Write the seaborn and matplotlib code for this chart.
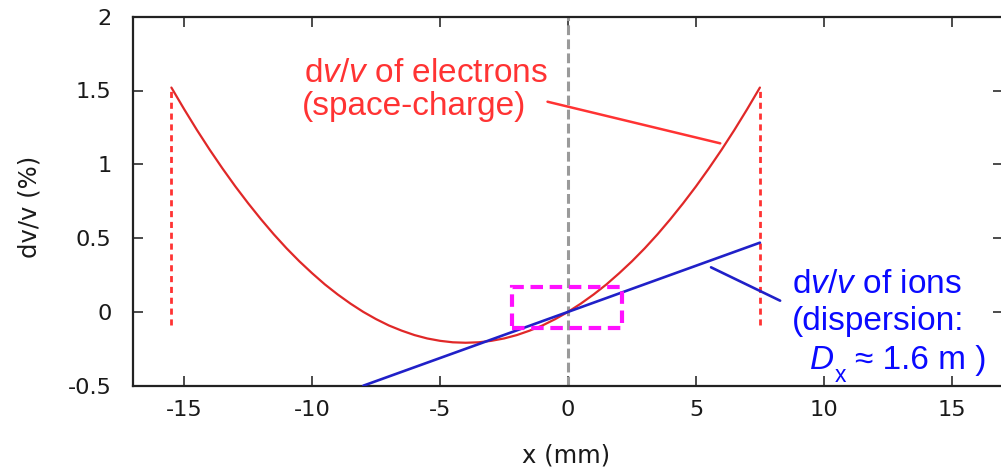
import matplotlib
matplotlib.use("Agg")
import matplotlib.pyplot as plt
from matplotlib.patches import Rectangle
import pandas as pd
import seaborn as sns

# Relative velocity spread of the electron beam (space-charge), in %
electron_x = [-15.5, -15, -14.5, -14, -13.5, -13, -12.5, -12, -11.5, -11,
              -10.5, -10, -9.5, -9, -8.5, -8, -7.5, -7, -6.5, -6, -5.5, -5,
              -4.5, -4, -3.5, -3, -2.5, -2, -1.5, -1, -0.5, 0, 0.5, 1, 1.5,
              2, 2.5, 3, 3.5, 4, 4.5, 5, 5.5, 6, 6.5, 7, 7.5]
electron_dvv = [1.520, 1.373, 1.232, 1.098, 0.971, 0.850, 0.736, 0.628,
                0.526, 0.431, 0.343, 0.262, 0.186, 0.118, 0.056, 0.000,
                -0.049, -0.092, -0.127, -0.157, -0.180, -0.196, -0.206,
                -0.209, -0.206, -0.196, -0.180, -0.157, -0.127, -0.092,
                -0.049, 0.000, 0.056, 0.118, 0.186, 0.262, 0.343, 0.431,
                0.526, 0.628, 0.736, 0.850, 0.971, 1.098, 1.232, 1.373, 1.520]

# Relative velocity spread of the ions (dispersion), in %
ion_x = [-8.0, 0.0, 7.5]
ion_dvv = [-0.5, 0.0, 0.469]

# Electron beam edges
edge_x = [-15.5, 7.5]
edge_dvv = [-0.09, 1.52]

# Overlap region around the beam centre
box_x = [-2.2, 2.1]
box_dvv = [-0.11, 0.17]

x_ticks = [-15, -10, -5, 0, 5, 10, 15]
x_tick_labels = ["-15", "-10", "-5", "0", "5", "10", "15"]
y_ticks = [-0.5, 0, 0.5, 1, 1.5, 2]
y_tick_labels = ["-0.5", "0", "0.5", "1", "1.5", "2"]

sns.set_style("ticks")
plt.rcParams["font.family"] = ["DejaVu Sans"]
plt.rcParams["axes.unicode_minus"] = False
plt.rcParams["mathtext.fontset"] = "custom"
plt.rcParams["mathtext.rm"] = "Liberation Sans"
plt.rcParams["mathtext.it"] = "Liberation Sans:italic"

RED_CURVE = "#e02828"
RED = "#ff3333"
BLUE_LINE = "#2020c8"
BLUE = "#0a0aff"

fig = plt.figure(figsize=(10.01, 4.68), dpi=100)
ax = fig.add_axes([133 / 1001, (468 - 385.7) / 468, 870 / 1001, 369 / 468])

electrons = pd.DataFrame({"x": electron_x, "dvv": electron_dvv})
ions = pd.DataFrame({"x": ion_x, "dvv": ion_dvv})

ax.axvline(0, color="#9a9a9a", lw=2.2, ls=(0, (3.2, 1.4)), zorder=1)
ax.vlines(edge_x, edge_dvv[0], edge_dvv[1], colors=RED, lw=2.0,
          linestyles=(0, (2.2, 1.7)), zorder=2)
sns.lineplot(data=electrons, x="x", y="dvv", color=RED_CURVE, lw=1.6,
             estimator=None, ax=ax, zorder=3)
sns.lineplot(data=ions, x="x", y="dvv", color=BLUE_LINE, lw=1.9,
             estimator=None, ax=ax, zorder=4)
ax.add_patch(Rectangle((box_x[0], box_dvv[0]), box_x[1] - box_x[0],
                       box_dvv[1] - box_dvv[0], fill=False, ec="#ff10ff",
                       lw=3.0, ls=(0, (3.0, 1.6)), zorder=5))

# Label connectors
ax.plot([-0.80, 5.95], [1.424, 1.142], color=RED, lw=1.8, zorder=3)
ax.plot([5.59, 8.29], [0.302, 0.076], color=BLUE_LINE, lw=1.9, zorder=4)

# Labels
tfont = dict(family="Liberation Sans", fontsize=24, va="baseline", ha="left")
ax.text(-10.32, 1.560, r"d$\mathit{v/v}$ of electrons", color=RED, **tfont)
ax.text(-10.40, 1.333, "(space-charge)", color=RED, **tfont)
ax.text(8.75, 0.126, r"d$\mathit{v/v}$ of ions", color=BLUE, **tfont)
ax.text(8.75, -0.122, "(dispersion:", color=BLUE, **tfont)
ax.text(9.46, -0.389, "D", color=BLUE, style="italic", **tfont)
ax.text(10.44, -0.474, "x", color=BLUE, family="Liberation Sans",
        fontsize=16.5, va="baseline", ha="left")
ax.text(11.22, -0.389, "\u2248 1.6 m )", color=BLUE, **tfont)

ax.set_xlim(-17, 17)
ax.set_ylim(-0.5, 2)
ax.set_xticks(x_ticks, x_tick_labels)
ax.set_yticks(y_ticks, y_tick_labels)
ax.tick_params(direction="in", length=7, width=1.1, top=True, right=True,
               labelsize=16.2, colors="#1a1a1a")
ax.tick_params(axis="x", pad=10.5)
ax.tick_params(axis="y", pad=15.5)
for s in ax.spines.values():
    s.set_linewidth(1.6)
    s.set_color("#222222")

ax.set_xlabel("x (mm)", fontsize=17.5, color="#1a1a1a")
ax.xaxis.label.set_verticalalignment("center")
ax.xaxis.set_label_coords(0.498, -0.1905)
ax.set_ylabel("dv/v (%)", fontsize=17.5, color="#1a1a1a")
ax.yaxis.label.set_verticalalignment("center")
ax.yaxis.set_label_coords(-0.1195, 0.484)

fig.savefig("out.png", dpi=100)
